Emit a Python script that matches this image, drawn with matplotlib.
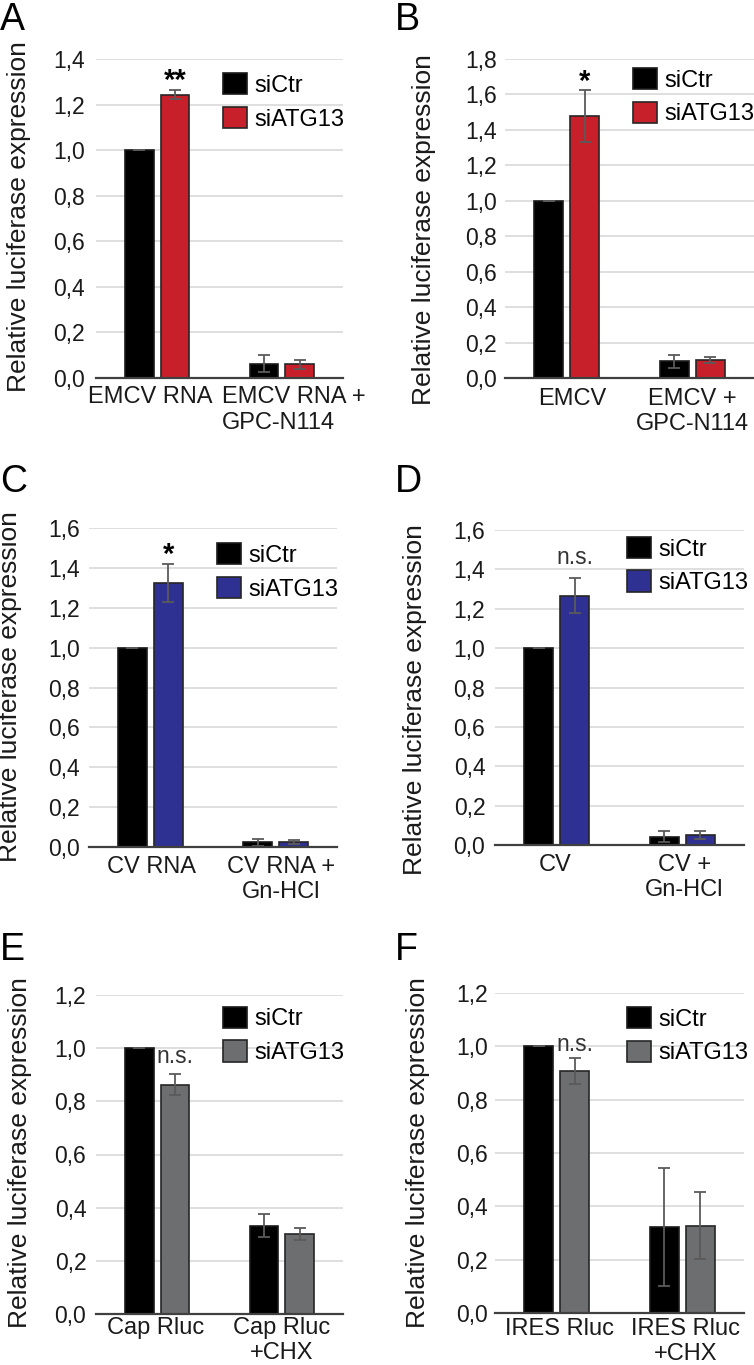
import matplotlib
matplotlib.use('Agg')
import matplotlib.pyplot as plt
import matplotlib.transforms as mtransforms
import numpy as np

plt.rcParams['font.family'] = ['Liberation Sans', 'DejaVu Sans']

#%% Dados
legend_labels = ['siCtr', 'siATG13']

groups_A = ['EMCV RNA', 'EMCV RNA +\nGPC-N114']
ctr_A, ctr_A_err = [1.0, 0.063], [0.0, 0.038]
atg_A, atg_A_err = [1.243, 0.061], [0.019, 0.020]
sig_A = '**'

groups_B = ['EMCV', 'EMCV +\nGPC-N114']
ctr_B, ctr_B_err = [1.0, 0.094], [0.0, 0.036]
atg_B, atg_B_err = [1.478, 0.103], [0.148, 0.016]
sig_B = '*'

groups_C = ['CV RNA', 'CV RNA +\nGn-HCl']
ctr_C, ctr_C_err = [1.0, 0.023], [0.0, 0.017]
atg_C, atg_C_err = [1.323, 0.025], [0.095, 0.009]
sig_C = '*'

groups_D = ['CV', 'CV +\nGn-HCl']
ctr_D, ctr_D_err = [1.0, 0.042], [0.0, 0.028]
atg_D, atg_D_err = [1.267, 0.051], [0.088, 0.018]
sig_D = 'n.s.'

groups_E = ['Cap Rluc', 'Cap Rluc\n+CHX']
ctr_E, ctr_E_err = [1.0, 0.332], [0.0, 0.043]
atg_E, atg_E_err = [0.863, 0.301], [0.038, 0.024]
sig_E = 'n.s.'

groups_F = ['IRES Rluc', 'IRES Rluc\n+CHX']
ctr_F, ctr_F_err = [1.0, 0.323], [0.0, 0.222]
atg_F, atg_F_err = [0.906, 0.328], [0.049, 0.124]
sig_F = 'n.s.'

#%% Layout
W, H = 754, 1365
fig = plt.figure(figsize=(W / 100, H / 100), dpi=100)

RED = '#c8202a'
BLUE = '#2e3192'
GRAY = '#6d6e70'

def px_axes(left, right, top, bottom):
    return fig.add_axes([left / W, 1 - bottom / H, (right - left) / W, (bottom - top) / H])

panels = [
    # letra, caixa (px), cor, ytop, grupos, dados, sig, legenda, ylabel, pads, sig offset (pt),
    # letra pos, deslocamento dos rótulos x (px), alinhamento
    ('A', (96, 343, 59, 378), RED, 1.4, groups_A, ctr_A, ctr_A_err, atg_A, atg_A_err, sig_A,
     (0.514, 0.955), (-0.263, 0.506), 6, 8, 1, (0, 30), (-7, 12), 'left'),
    ('B', (505, 754, 59, 378), RED, 1.8, groups_B, ctr_B, ctr_B_err, atg_B, atg_B_err, sig_B,
     (0.514, 0.972), (-0.277, 0.464), 7, 6, 0, (395, 30), (6, 0), 'center'),
    ('C', (89, 337, 528, 847), BLUE, 1.6, groups_C, ctr_C, ctr_C_err, atg_C, atg_C_err, sig_C,
     (0.516, 0.952), (-0.270, 0.503), 6.5, 6.5, 1, (0, 492), (1, 5), 'center'),
    ('D', (495, 744, 530, 845), BLUE, 1.6, groups_D, ctr_D, ctr_D_err, atg_D, atg_D_err, sig_D,
     (0.530, 0.978), (-0.273, 0.462), 6.5, 7, 10, (395, 492), (-1, 2), 'center'),
    ('E', (96, 343, 995, 1314), GRAY, 1.2, groups_E, ctr_E, ctr_E_err, atg_E, atg_E_err, sig_E,
     (0.514, 0.963), (-0.259, 0.506), 2, 7, 8, (0, 960), (-2, 0), 'center'),
    ('F', (495, 744, 993, 1313), GRAY, 1.2, groups_F, ctr_F, ctr_F_err, atg_F, atg_F_err, sig_F,
     (0.530, 0.956), (-0.261, 0.502), 3.5, 5, 5, (395, 960), (3, 3), 'center'),
]

width = 0.23
off = 0.143
for (letter, box, color, ytop, groups, ctr, ctr_err, atg, atg_err, sig,
     leg_pos, ylab_pos, xpad, ypad, sig_off, letter_pos, shifts, malign) in panels:
    ax = px_axes(*box)
    x = np.arange(len(groups))
    ax.bar(x - off, ctr, width, color='black', edgecolor='#1a1a1a', linewidth=1.2,
           label=legend_labels[0], zorder=2)
    ax.bar(x + off, atg, width, color=color, edgecolor='#262626', linewidth=1.2,
           label=legend_labels[1], zorder=2)
    ax.errorbar(x - off, ctr, yerr=ctr_err, fmt='none', ecolor='#5a5a5a',
                elinewidth=1.3, capsize=4.5, capthick=1.3, zorder=3)
    ax.errorbar(x + off, atg, yerr=atg_err, fmt='none', ecolor='#5a5a5a',
                elinewidth=1.3, capsize=4.5, capthick=1.3, zorder=3)

    # significância acima da barra siATG13 do primeiro grupo
    if sig.startswith('*'):
        ax.annotate(sig, xy=(x[0] + off, atg[0] + atg_err[0]), xytext=(0, sig_off),
                    textcoords='offset points', ha='center', va='baseline',
                    fontsize=21, fontweight='bold', color='black')
    else:
        ax.annotate(sig, xy=(x[0] + off, atg[0] + atg_err[0]), xytext=(0, sig_off),
                    textcoords='offset points', ha='center', va='baseline',
                    fontsize=16.5, color='#333333')

    ax.set_xlim(-0.49, 1.49)
    ax.set_ylim(0, ytop)
    ax.set_yticks(np.arange(0, ytop + 0.01, 0.2))
    ax.yaxis.set_major_formatter(plt.FuncFormatter(lambda v, p: f'{v:.1f}'.replace('.', ',')))
    ax.set_xticks(x)
    ax.tick_params(axis='x', length=0, pad=xpad)
    ax.tick_params(axis='y', length=0, pad=ypad, labelsize=16.5, labelcolor='#1a1a1a')
    ax.set_xticklabels(groups, fontsize=17, color='#1a1a1a', multialignment=malign)
    # deslocar os rótulos como no original (depois de tick_params, que refaz o transform)
    for lab, dx in zip(ax.get_xticklabels(), shifts):
        lab.set_transform(lab.get_transform() +
                          mtransforms.ScaledTranslation(dx / 100, 0, fig.dpi_scale_trans))
    ax.grid(axis='y', color='#d9d9d9', linewidth=1.2, zorder=0)
    ax.set_axisbelow(True)
    for s in ['left', 'right', 'top']:
        ax.spines[s].set_visible(False)
    ax.spines['bottom'].set_color('#404040')
    ax.spines['bottom'].set_linewidth(1.6)
    ax.spines['bottom'].set_zorder(4)

    ax.set_ylabel('Relative luciferase expression', fontsize=19, color='#1a1a1a')
    ax.yaxis.set_label_coords(*ylab_pos)

    ax.legend(loc='upper left', bbox_to_anchor=leg_pos, frameon=False, fontsize=17,
              handlelength=1.0, handleheight=1.0, handletextpad=0.35, labelspacing=0.42,
              borderpad=0, borderaxespad=0)

    fig.text(letter_pos[0] / W, 1 - letter_pos[1] / H, letter, fontsize=27,
             ha='left', va='baseline', color='black')

fig.savefig('out.png', dpi=100)
